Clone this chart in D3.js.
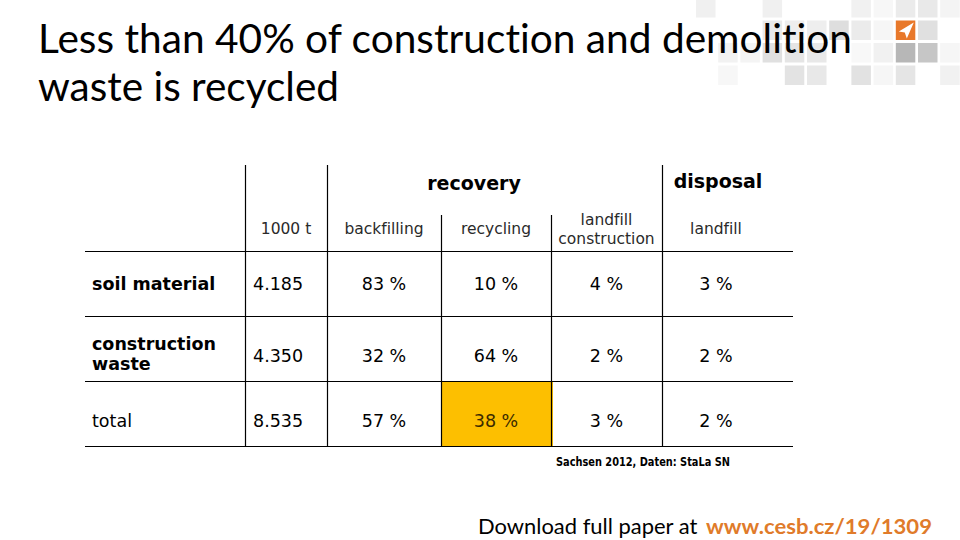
<!DOCTYPE html>
<html>
<head>
<meta charset="utf-8">
<script src="https://cdn.jsdelivr.net/npm/d3@7"></script>
<style>
  html, body { margin: 0; padding: 0; background: #fff; }
  svg { display: block; }
  text { font-variant-ligatures: none; font-feature-settings: "liga" 0, "clig" 0; }
</style>
</head>
<body>
<svg id="chart" width="960" height="540"></svg>
<script>
// ---------- data ----------
const titleLines = ["Less than 40% of construction and demolition", "waste is recycled"];
const groupHeaders = ["recovery", "disposal"];
const columnKeys = ["amount", "backfilling", "recycling", "landfillConstruction", "landfill"];
const columnLabels = [["1000 t"], ["backfilling"], ["recycling"], ["landfill", "construction"], ["landfill"]];
const rowLabels = [["soil material"], ["construction", "waste"], ["total"]];
const rowBold = [true, true, false];
const amounts = ["4.185", "4.350", "8.535"];
const backfilling = [83, 32, 57];
const recycling = [10, 64, 38];
const landfillConstruction = [4, 2, 3];
const landfillDisposal = [3, 2, 2];
const highlight = { row: 2, col: "recycling" };
const sourceNote = "Sachsen 2012, Daten: StaLa SN";
const footerText = "Download full paper at ";
const footerLink = "www.cesb.cz/19/1309";

// decorative squares: [column, row, shade]
const decoSquares = [
  [0,0,"#f0f0f0"],[3,0,"#f0f0f0"],[7,0,"#f1f1f1"],[8,0,"#f7f7f7"],[9,0,"#ebebeb"],[10,0,"#e9e9e9"],[11,0,"#f4f4f4"],
  [3,1,"#e9e9e9"],[4,1,"#eeeeee"],[5,1,"#eeeeee"],[6,1,"#dedede"],[7,1,"#ebebeb"],[8,1,"#f6f6f6"],[10,1,"#e0e0e0"],
  [1,2,"#f2f2f2"],[2,2,"#f4f4f4"],[3,2,"#e0e0e0"],[4,2,"#e5e5e5"],[5,2,"#e8e8e8"],[7,2,"#f8f8f8"],[8,2,"#f1f1f1"],[9,2,"#b7b7b7"],[10,2,"#c6c6c6"],[11,2,"#f6f6f6"],
  [1,3,"#f7f7f7"],[4,3,"#e3e3e3"],[5,3,"#e8e8e8"],[7,3,"#e2e2e2"],[8,3,"#f6f6f6"],[9,3,"#e5e5e5"],[11,3,"#f1f1f1"]
];

// ---------- layout ----------
const svg = d3.select("#chart");
const W = 960, H = 540;
svg.append("rect").attr("width", W).attr("height", H).attr("fill", "#fff");

// decoration
const decoX = d3.scaleLinear().domain([0, 1]).range([696, 718.2]);
const decoY = d3.scaleLinear().domain([0, 1]).range([-2, 20.5]);
svg.append("g").selectAll("rect").data(decoSquares).join("rect")
  .attr("x", d => decoX(d[0])).attr("y", d => decoY(d[1]))
  .attr("width", 19.5).attr("height", 19.5).attr("fill", d => d[2]);
// orange logo square
const logo = svg.append("g").attr("transform", `translate(${decoX(9)},${decoY(1)})`);
logo.append("rect").attr("width", 19.5).attr("height", 19.5).attr("fill", "#E8782A");
logo.append("path").attr("d", "M18,2 L3,11 L9,12 L11,18 Z").attr("fill", "#fff");

// title
const titleFont = "Lato, 'Open Sans', sans-serif";
svg.append("text").attr("x", 38).attr("y", 53).attr("font-family", titleFont).attr("font-size", 40)
  .attr("fill", "#000").attr("textLength", 814).attr("lengthAdjust", "spacingAndGlyphs").text(titleLines[0]);
svg.append("text").attr("x", 38).attr("y", 101).attr("font-family", titleFont).attr("font-size", 40)
  .attr("fill", "#000").attr("textLength", 301).attr("lengthAdjust", "spacingAndGlyphs").text(titleLines[1]);

// table scales
const tableLeft = 85, tableRight = 793;
const colEdge = d3.scaleOrdinal().domain(["label", ...columnKeys, "end"]).range([85, 245, 327, 441, 551, 662, 793]);
const colCenter = d3.scaleOrdinal().domain(columnKeys).range([286, 384, 496, 606.5, 716]);
const rowScale = d3.scaleBand().domain(d3.range(rowLabels.length)).range([250.5, 446.5]);

const tableFont = "'DejaVu Sans', Verdana, sans-serif";
const t = svg.append("g");

// highlight cell
const hcIdx = columnKeys.indexOf(highlight.col);
t.append("rect")
  .attr("x", colEdge(highlight.col))
  .attr("y", rowScale(highlight.row))
  .attr("width", colEdge(columnKeys[hcIdx + 1]) - colEdge(highlight.col) + 2)
  .attr("height", rowScale.bandwidth())
  .attr("fill", "#FDBF00");

// horizontal lines
const hLines = [...rowScale.domain().map(r => rowScale(r)), rowScale(rowLabels.length - 1) + rowScale.bandwidth()];
t.selectAll("line.h").data(hLines).join("line").attr("class", "h")
  .attr("x1", tableLeft).attr("x2", tableRight)
  .attr("y1", d => Math.round(d) + 0.5).attr("y2", d => Math.round(d) + 0.5)
  .attr("stroke", "#000").attr("stroke-width", 1.2);

// vertical lines
const vLines = [
  { key: "amount", top: 165 }, { key: "backfilling", top: 165 }, { key: "recycling", top: 215 },
  { key: "landfillConstruction", top: 215 }, { key: "landfill", top: 165 }
];
t.selectAll("line.v").data(vLines).join("line").attr("class", "v")
  .attr("x1", d => colEdge(d.key) + 0.5).attr("x2", d => colEdge(d.key) + 0.5)
  .attr("y1", d => d.top).attr("y2", hLines[hLines.length - 1] + 0.5)
  .attr("stroke", "#000").attr("stroke-width", 1.2);

// group headers
t.append("text").attr("x", 474).attr("y", 190).attr("text-anchor", "middle")
  .attr("font-family", tableFont).attr("font-weight", "bold").attr("font-size", 19).attr("fill", "#000")
  .text(groupHeaders[0]);
t.append("text").attr("x", 718).attr("y", 188).attr("text-anchor", "middle")
  .attr("font-family", tableFont).attr("font-weight", "bold").attr("font-size", 19).attr("fill", "#000")
  .text(groupHeaders[1]);

// column headers
const headerCenterY = 229;
columnKeys.forEach((k, i) => {
  const lines = columnLabels[i];
  const lh = 19;
  lines.forEach((ln, j) => {
    t.append("text")
      .attr("x", colCenter(k))
      .attr("y", headerCenterY + (j - (lines.length - 1) / 2) * lh)
      .attr("dominant-baseline", "central")
      .attr("text-anchor", "middle")
      .attr("font-family", tableFont).attr("font-size", 15.5).attr("fill", "#2a2a2a")
      .text(ln);
  });
});

// text placement within rows (baseline below band centre)
const baselineOffset = 6.5;
const labelNudge = [0, 5, 6.5];
const valueNudge = [0, 6.5, 6.5];

// row labels
rowLabels.forEach((lines, r) => {
  const cy = rowScale(r) + rowScale.bandwidth() / 2 + baselineOffset + labelNudge[r];
  lines.forEach((ln, j) => {
    t.append("text")
      .attr("x", 92)
      .attr("y", cy + (j - (lines.length - 1) / 2) * 20)
      .attr("font-family", tableFont).attr("font-size", 17.5)
      .attr("font-weight", rowBold[r] ? "bold" : "normal").attr("fill", "#000")
      .text(ln);
  });
});

// values
const pctSeries = { backfilling, recycling, landfillConstruction, landfill: landfillDisposal };
rowLabels.forEach((_, r) => {
  const cy = rowScale(r) + rowScale.bandwidth() / 2 + baselineOffset + valueNudge[r];
  t.append("text").attr("x", colEdge("amount") + 8).attr("y", cy)
    .attr("font-family", tableFont).attr("font-size", 17.5).attr("fill", "#000")
    .text(amounts[r]);
  ["backfilling", "recycling", "landfillConstruction", "landfill"].forEach(k => {
    const isHi = highlight.row === r && highlight.col === k;
    t.append("text").attr("x", colCenter(k)).attr("y", cy)
      .attr("text-anchor", "middle")
      .attr("font-family", tableFont).attr("font-size", 17.5)
      .attr("fill", isHi ? "#3a2a00" : "#000")
      .text(pctSeries[k][r] + " %");
  });
});

// source note
svg.append("text").attr("x", 556).attr("y", 466)
  .attr("font-family", "'DejaVu Sans Condensed', 'DejaVu Sans', sans-serif")
  .attr("font-stretch", "condensed").attr("font-weight", "bold").attr("font-size", 11.5)
  .attr("fill", "#000").attr("textLength", 174).attr("lengthAdjust", "spacingAndGlyphs")
  .text(sourceNote);

// footer
const footer = svg.append("text").attr("x", 478).attr("y", 534)
  .attr("font-family", titleFont).attr("font-size", 21).attr("fill", "#000");
footer.append("tspan").attr("textLength", 225).attr("lengthAdjust", "spacingAndGlyphs").text(footerText);
footer.append("tspan").attr("x", 706).attr("font-weight", "bold").attr("fill", "#E07B2A")
  .attr("textLength", 226).attr("lengthAdjust", "spacingAndGlyphs").text(footerLink);
</script>
</body>
</html>
